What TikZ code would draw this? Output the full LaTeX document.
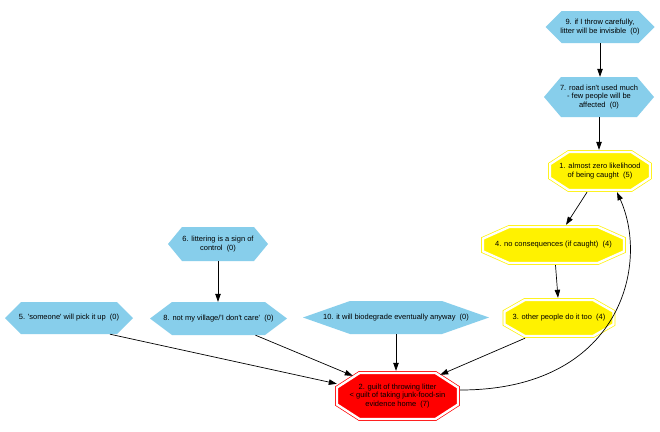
\documentclass[tikz,border=0pt]{standalone}
\usepackage{fontspec}
\setmainfont{Liberation Sans}
\usetikzlibrary{arrows.meta,calc}
\definecolor{hexblue}{HTML}{87CEEB}
\newcommand\ap{\textquotesingle}
\tikzset{
  lbl/.style={align=center, inner sep=0pt, font=\fontsize{7.5}{8.5}\selectfont, text=black},
  hexfill/.style={fill=hexblue},
  yeloct/.style={draw=yellow, fill=yellow, double=white, double distance=2.4pt, line width=0.7pt},
  redoct/.style={draw=red, fill=red, double=white, double distance=2.4pt, line width=0.7pt},
  edge/.style={draw=black, line width=0.7pt, -{Triangle[length=8pt,width=5.5pt]}}
}
\newcommand\hexnode[7]{%
  \fill[hexfill] (#2-#4,#3) -- (#2-#4+#6,#3-#5) -- (#2+#4-#6,#3-#5) -- (#2+#4,#3) -- (#2+#4-#6,#3+#5) -- (#2-#4+#6,#3+#5) -- cycle;
  \node[lbl, minimum width=2*#4, minimum height=2*#5] (#1) at (#2,#3) {#7};
}
\newcommand\octnode[7]{%
  \pgfmathsetmacro\octA{#4-2}\pgfmathsetmacro\octB{#5-2}%
  \pgfmathsetmacro\octCX{0.36*#4}\pgfmathsetmacro\octCY{0.58*#5}%
  \draw[#6] (#2-\octA,#3-\octB+\octCY) -- (#2-\octA+\octCX,#3-\octB) -- (#2+\octA-\octCX,#3-\octB) -- (#2+\octA,#3-\octB+\octCY) -- (#2+\octA,#3+\octB-\octCY) -- (#2+\octA-\octCX,#3+\octB) -- (#2-\octA+\octCX,#3+\octB) -- (#2-\octA,#3+\octB-\octCY) -- cycle;
  \node[lbl, minimum width=2*#4, minimum height=2*#5] (#1) at (#2,#3) {#7};
}
\begin{document}
\begin{tikzpicture}[x=1pt, y=-1pt]
\useasboundingbox (0,0) rectangle (660,431);
\fill[white] (0,0) rectangle (660,431);

\hexnode{n9}{600}{27}{54.5}{16}{16}{9. if I throw carefully,\\litter will be invisible~~(0)}
\hexnode{n7}{599}{97}{55}{20}{17}{7. road isn\ap t used much\\- few people will be\\affected~~(0)}
\octnode{n1}{600}{171}{52}{21}{yeloct}{1. almost zero likelihood\\of being caught~~(5)}
\octnode{n4}{553.5}{245}{72.5}{20}{yeloct}{4. no consequences (if caught)~~(4)}
\octnode{n3}{559}{318}{56.5}{20}{yeloct}{3. other people do it too~~(4)}
\octnode{n2}{397.5}{396}{62.5}{25}{redoct}{2. guilt of throwing litter\\< guilt of taking junk-food-sin\\evidence home~~(7)}
\hexnode{n6}{218}{244}{50}{17}{14}{6. littering is a sign of\\control~~(0)}
\hexnode{n5}{69}{318}{64}{16}{16}{5. \ap someone\ap{} will pick it up~~(0)}
\hexnode{n8}{218.5}{318.5}{68.5}{16.5}{22}{8. not my village/\ap I don\ap t care\ap~~(0)}
\hexnode{n10}{396}{317.5}{93}{16.5}{47}{10. it will biodegrade eventually anyway~~(0)}

\draw[edge] (n9.south) -- (n9.south |- n7.north);
\draw[edge] (n7.south) -- (n7.south |- n1.north);
\draw[edge] ([xshift=-13pt]n1.south) -- ([xshift=12.5pt]n4.north);
\draw[edge] ([xshift=2pt]n4.south) -- ([xshift=-1pt]n3.north);
\draw[edge] (n6.south) -- (n6.south |- n8.north);
\draw[edge] ([xshift=41pt]n5.south) -- ([xshift=2pt,yshift=-13pt]n2.north west);
\draw[edge] ([xshift=37pt]n8.south) -- ([xshift=18pt,yshift=-5pt]n2.north west);
\draw[edge] (n10.south) -- (n10.south |- n2.north);
\draw[edge] ([xshift=-34pt]n3.south) -- ([xshift=-20pt,yshift=-4pt]n2.north east);
\draw[edge] ([yshift=6pt]n2.east) .. controls (620,390) and (650,265) .. ([xshift=17pt]n1.south);
\end{tikzpicture}
\end{document}
